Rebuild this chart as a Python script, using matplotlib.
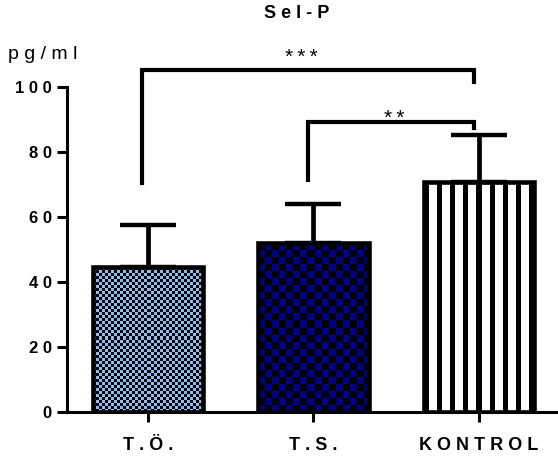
import numpy as np
import matplotlib.pyplot as plt
from matplotlib.colors import to_rgb

groups = ["T.Ö.", "T.S.", "KONTROL"]
means = [44.7, 52.0, 70.8]
err_up = [12.8, 12.0, 14.4]
yticks = [0, 20, 40, 60, 80, 100]

# brackets: left group, right group, top, left drop, right drop, stars,
# star position (x, baseline y)
brackets = [
    (0, 2, 105.0, 70.5, 101.3, "***", 0.925, 107.2),
    (1, 2, 89.3, 71.4, 87.2, "**", 1.49, 88.6),
]

plt.rcParams["font.family"] = ["Liberation Sans", "DejaVu Sans"]


def spaced(s, sep=" "):
    return sep.join(s)


W, H = 558, 457
fig = plt.figure(figsize=(W / 100, H / 100), dpi=100)
ax = fig.add_axes([67 / W, 45 / H, 491 / W, 325.3 / H])
xlim = (-0.489, 2.477)
ylim = (0, 100)
ax.set_xlim(*xlim)
ax.set_ylim(*ylim)

px_x = 491 / (xlim[1] - xlim[0])
px_y = 325.3 / (ylim[1] - ylim[0])

x = np.arange(len(groups))
width = 0.665
bars = ax.bar(x, means, width, facecolor="none", edgecolor="black",
              linewidth=3.3, zorder=3)


def texture(kind, nx, ny):
    jj, ii = np.meshgrid(np.arange(nx), np.arange(ny))
    img = np.ones((ny, nx, 3))
    if kind == "fine":
        on = ((ii // 3) + (jj // 3)) % 2 == 0
        img[on] = to_rgb("#8cbcf0")
        img[~on] = 0
    elif kind == "coarse":
        on = ((ii // 7) + (jj // 7)) % 2 == 0
        img[on] = to_rgb("#000080")
        img[~on] = 0
    else:
        on = (jj % 13) < 5
        img[on] = 0
    return img


for bar, kind in zip(bars, ["fine", "coarse", "stripes"]):
    xl = bar.get_x()
    xr = xl + bar.get_width()
    top = bar.get_height()
    nx = int(round((xr - xl) * px_x))
    ny = int(round(top * px_y))
    im = ax.imshow(texture(kind, nx, ny), extent=(xl, xr, 0, top),
                   origin="lower", interpolation="nearest", aspect="auto",
                   zorder=2)
    im.set_clip_path(bar)

ax.errorbar(x, means, yerr=[np.zeros(len(x)), err_up], fmt="none",
            ecolor="black", elinewidth=3.4, capsize=20, capthick=3.2,
            zorder=4)
ax.set_xlim(*xlim)
ax.set_ylim(*ylim)

for g0, g1, top, d0, d1, stars, sx, sy in brackets:
    bx0, bx1 = g0 - 0.035, g1 - 0.03
    ax.plot([bx0, bx0, bx1, bx1], [d0, top, top, d1], color="black",
            lw=3.0, clip_on=False, solid_joinstyle="miter", zorder=5)
    ax.text(sx, sy, spaced(stars, "\u2009"), ha="center", va="baseline",
            fontsize=15, clip_on=False)

ax.set_xticks(x)
ax.set_xticklabels([spaced(g) for g in groups], fontsize=13, fontweight="bold")
ax.set_yticks(yticks)
ax.set_yticklabels([spaced(str(t)) for t in yticks], fontsize=12,
                   fontweight="bold")
ax.tick_params(axis="x", length=7, width=2.2, pad=11)
ax.tick_params(axis="y", length=7, width=2.2, pad=4)

for side in ["top", "right"]:
    ax.spines[side].set_visible(False)
ax.spines["left"].set_linewidth(2.2)
ax.spines["bottom"].set_linewidth(2.2)

fig.text(297 / W, 1 - 14 / H, spaced("Sel-P"), ha="center", va="center",
         fontsize=13, fontweight="bold")
fig.text(8 / W, 1 - 59 / H, spaced("pg/ml"), ha="left", va="baseline",
         fontsize=14)

fig.savefig("out.png", dpi=100)
